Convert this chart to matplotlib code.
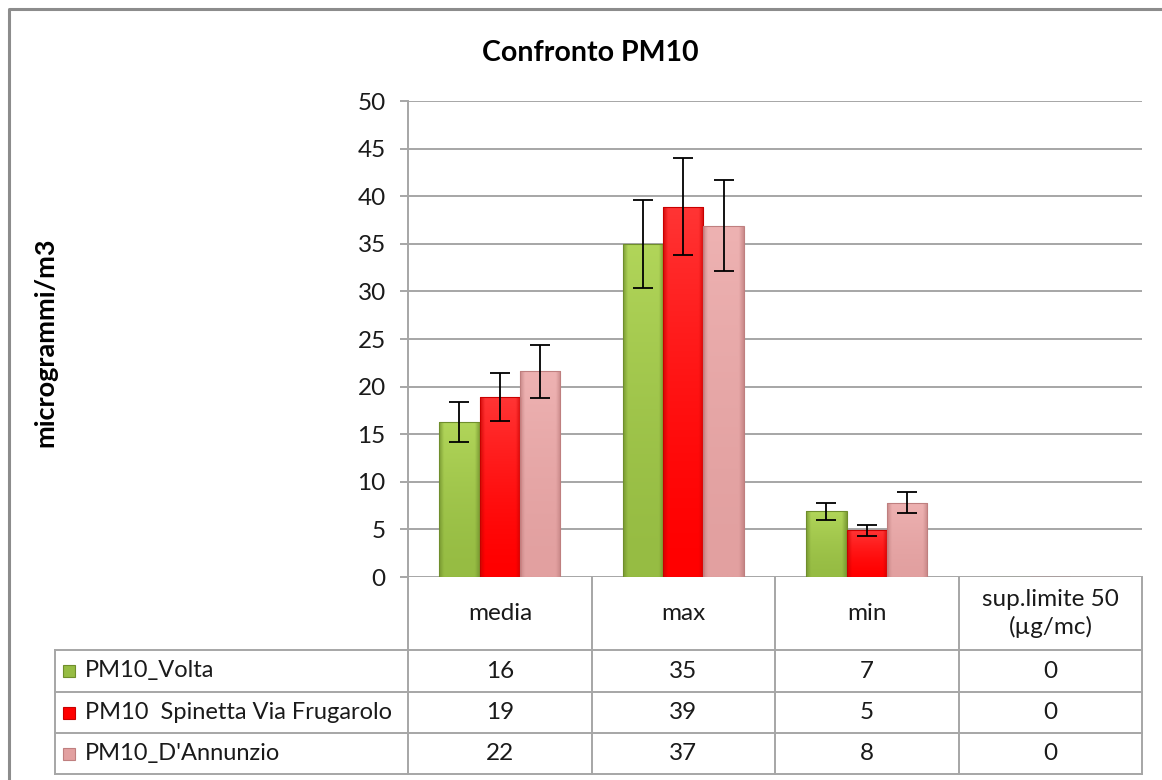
import numpy as np
import matplotlib
matplotlib.use("Agg")
import matplotlib.pyplot as plt
from matplotlib.colors import to_rgb

# ---- data -------------------------------------------------------------
categories = ["media", "max", "min", "sup.limite 50\n(µg/mc)"]
series_names = ["PM10_Volta", "PM10  Spinetta Via Frugarolo", "PM10_D'Annunzio"]
volta = [16.3, 35.0, 6.9, 0]
spinetta = [18.9, 38.9, 4.9, 0]
dannunzio = [21.6, 36.9, 7.8, 0]
volta_err = [2.1, 4.6, 0.9, 0]
spinetta_err = [2.5, 5.1, 0.6, 0]
dannunzio_err = [2.8, 4.8, 1.1, 0]
yticks = [0, 5, 10, 15, 20, 25, 30, 35, 40, 45, 50]

values = [volta, spinetta, dannunzio]
errors = [volta_err, spinetta_err, dannunzio_err]
# (light, base, dark) shades for each series
shades = [("#b4d85c", "#96bc43", "#6f8e2c"),
          ("#ff3a3a", "#ff0000", "#c80000"),
          ("#efb4b4", "#e2a0a0", "#bf7f7f")]

FONT = ["Lato", "DejaVu Sans"]
plt.rcParams["font.family"] = FONT
TXT = "#1a1a1a"
FS = 17.5

W, H = 1162, 780
fig = plt.figure(figsize=(W / 100, H / 100), dpi=100)

# full-figure overlay in pixel coordinates for frame and data table
ov = fig.add_axes([0, 0, 1, 1], zorder=0)
ov.set_xlim(0, W)
ov.set_ylim(H, 0)
ov.axis("off")

# plot area
x0, x1, y0, y1 = 408, 1142, 101, 577
ax = fig.add_axes([x0 / W, 1 - y1 / H, (x1 - x0) / W, (y1 - y0) / H], zorder=2)
ax.set_facecolor("none")
ax.set_xlim(-0.5, len(categories) - 0.5)
ax.set_ylim(0, 50)
ax.set_yticks(yticks)
ax.set_yticklabels([str(t) for t in yticks], fontsize=FS, color=TXT)
ax.set_xticks([])
ax.grid(axis="y", color="#a6a6a6", linewidth=1.4, zorder=0)
ax.set_axisbelow(True)
for s in ["top", "right", "bottom"]:
    ax.spines[s].set_visible(False)
ax.spines["left"].set_color("#a6a6a6")
ax.spines["left"].set_linewidth(1.4)
ax.tick_params(axis="y", length=6, width=1.4, color="#a6a6a6", pad=10)


def shaded_fill(patch, light, base, dark):
    """Fill a bar patch with a soft bevelled gradient."""
    bx, by = patch.get_x(), patch.get_y()
    bw, bh = patch.get_width(), patch.get_height()
    if bh <= 0:
        return
    n = 64
    u = np.linspace(0, 1, n)
    # horizontal: darker edges, vertical: lighter towards the top
    edge = np.minimum(u, 1 - u)
    hx = np.clip(edge / 0.12, 0, 1)
    vy = u[:, None]  # 0 bottom -> 1 top
    lt, bs, dk = np.array(to_rgb(light)), np.array(to_rgb(base)), np.array(to_rgb(dark))
    col = bs + (lt - bs) * (vy[..., None] ** 1.5) * 0.9
    col = col * np.ones((n, n, 1))
    mix = (1 - hx)[None, :, None] * 0.75
    img = col * (1 - mix) + dk * mix
    im = ax.imshow(img, extent=[bx, bx + bw, by, by + bh], origin="lower",
                   aspect="auto", zorder=2, interpolation="bilinear")
    im.set_clip_path(patch)


xs = np.arange(len(categories))
bw = 0.22
for i, (vals, errs, sh) in enumerate(zip(values, errors, shades)):
    pos = xs + (i - 1) * bw
    bars = ax.bar(pos, vals, width=bw, color=sh[1], edgecolor=sh[2],
                  linewidth=0.8, zorder=3)
    for b in bars:
        shaded_fill(b, *sh)
        b.set_facecolor("none")
        b.set_zorder(4)
    ax.errorbar([p for p, v in zip(pos, vals) if v > 0],
                [v for v in vals if v > 0],
                yerr=[e for e, v in zip(errs, vals) if v > 0],
                fmt="none", ecolor="black", elinewidth=1.3, capsize=7,
                capthick=1.3, zorder=5)
ax.set_xlim(-0.5, len(categories) - 0.5)
ax.set_ylim(0, 50)

# title and axis label
fig.text(590 / W, 1 - 53 / H, "Confronto PM10", ha="center", va="center",
         fontsize=20.5, fontweight="bold", family=FONT, color="black")
fig.text(45 / W, 1 - 342 / H, "microgrammi/m3", ha="center", va="center",
         rotation=90, fontsize=19.5, fontweight="bold", family=FONT, color="black")

# outer chart frame
ov.plot([9, 9, W], [H, 9, 9], color="#8c8c8c", lw=2.2, solid_capstyle="butt")

# data table
gc = "#a6a6a6"
col_edges = [408, 592, 775, 959, 1142]
row_edges = [577, 650, 692, 733, 774]
for xe in col_edges:
    ov.plot([xe, xe], [row_edges[0], row_edges[-1]], color=gc, lw=1.4)
ov.plot([55, 55], [row_edges[1], row_edges[-1]], color=gc, lw=1.4)
for ye in row_edges[1:]:
    ov.plot([55, 1142], [ye, ye], color=gc, lw=1.4)

for j, cat in enumerate(categories):
    cx = (col_edges[j] + col_edges[j + 1]) / 2
    ov.text(cx, (row_edges[0] + row_edges[1]) / 2, cat, ha="center", va="center",
            fontsize=FS, color=TXT, linespacing=1.3)

for i, (name, vals, sh) in enumerate(zip(series_names, values, shades)):
    cy = (row_edges[i + 1] + row_edges[i + 2]) / 2
    ov.add_patch(plt.Rectangle((63, cy - 6), 12, 12, facecolor=sh[1],
                               edgecolor=sh[2], lw=0.8))
    ov.text(85, cy, name, ha="left", va="center", fontsize=17, color=TXT)
    for j, v in enumerate(vals):
        cx = (col_edges[j] + col_edges[j + 1]) / 2
        ov.text(cx, cy, f"{v:.0f}", ha="center", va="center", fontsize=FS,
                color=TXT)

fig.savefig("out.png", dpi=100)
